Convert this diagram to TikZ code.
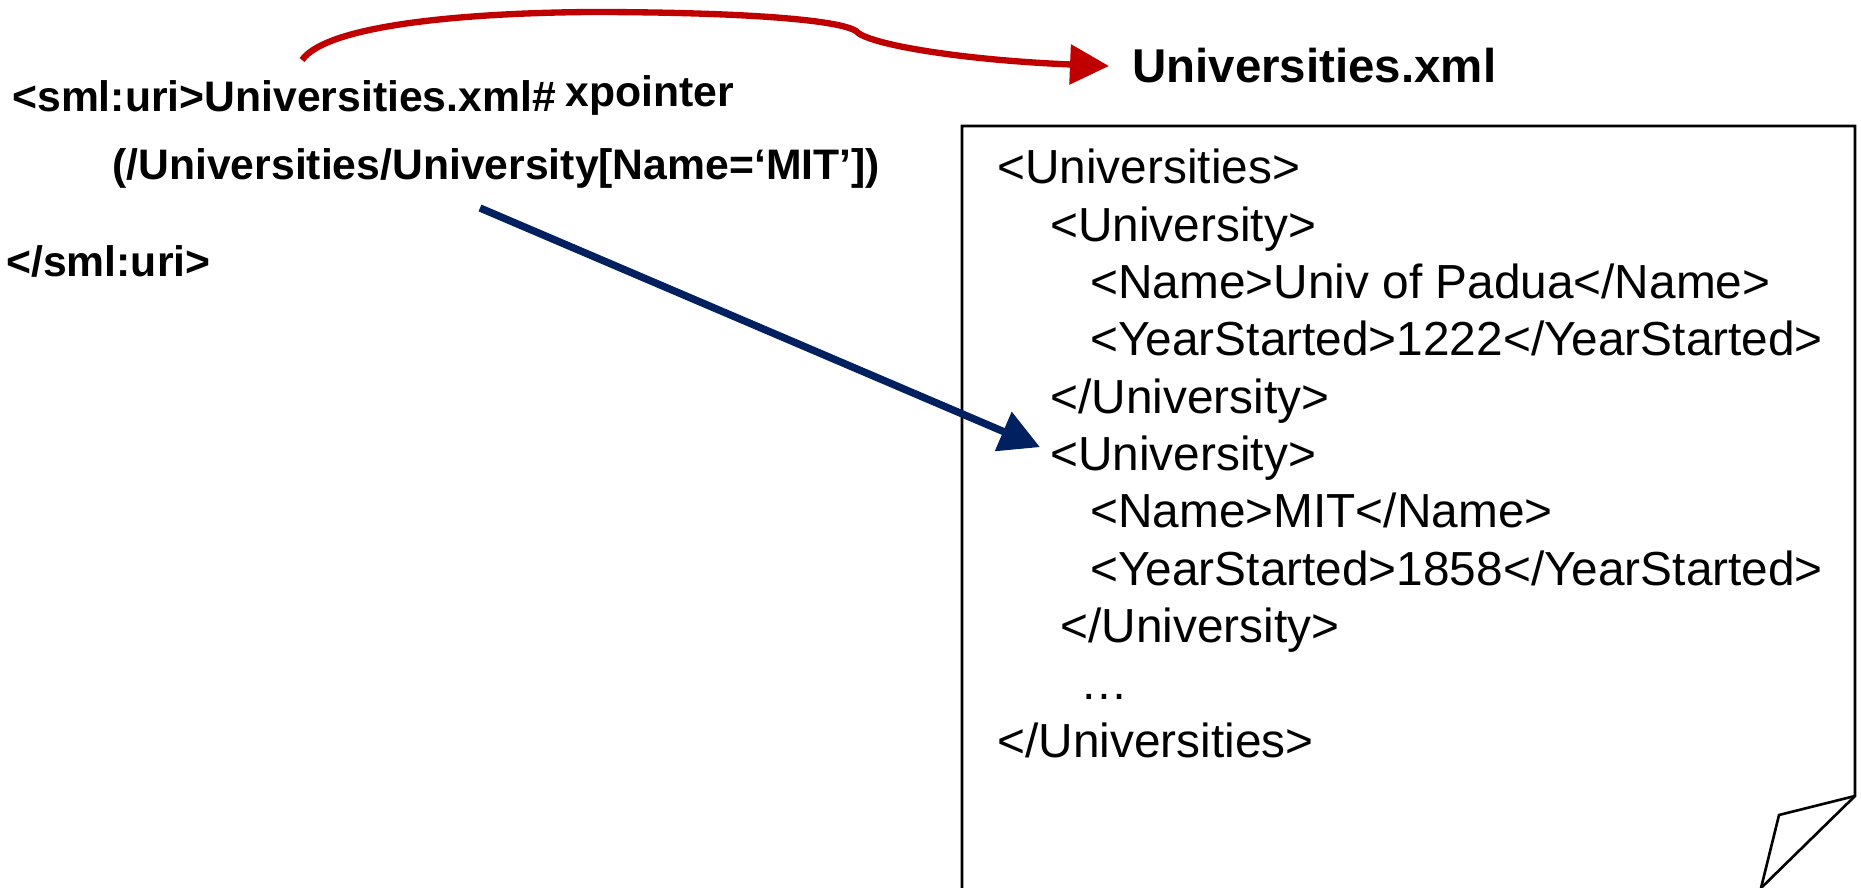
\documentclass[tikz,border=0pt]{standalone}
\usepackage{fontspec}
\setmainfont{Liberation Sans}
\usetikzlibrary{arrows.meta, positioning}
\definecolor{hookred}{HTML}{C00000}
\definecolor{ptrblue}{HTML}{002060}
\tikzset{
  uricode/.style={font=\bfseries\fontsize{24.3}{28}\selectfont, anchor=base west, inner sep=0pt},
  xmlline/.style={font=\fontsize{27.2}{32}\selectfont, anchor=base west, inner sep=0pt},
  pagebox/.style={line width=1.5pt, line join=miter},
}
\begin{document}
\begin{tikzpicture}[x=0.02cm, y=-0.02cm]
  \useasboundingbox (0,0) rectangle (1861,888);
  % left: the uri with its xpointer
  \node[uricode] (uriopen) at (12,112) {<sml:uri>Universities.xml\#};
  \node[uricode] (xptr) at (565,107) {xpointer};
  \node[uricode] (xpath) at (112,180) {(/Universities/University[Name=‘MIT’])};
  \node[uricode] (uriclose) at (6,276) {</sml:uri>};
  % right: the document
  \node[uricode, font=\bfseries\fontsize{27}{32}\selectfont] (header) at (1132,83) {Universities.xml};
  \draw[pagebox] (962,888) -- (962,126) -- (1855,126) -- (1855,796) -- (1761,888);
  \draw[pagebox] (1855,796) -- (1779,815) -- (1761,888);
  \node[xmlline] (l1)  at (997,184)    {<Universities>};
  \node[xmlline] (l2)  at (1050,241.3) {<University>};
  \node[xmlline] (l3)  at (1090,298.6) {<Name>Univ of Padua</Name>};
  \node[xmlline] (l4)  at (1090,355.9) {<YearStarted>1222</YearStarted>};
  \node[xmlline] (l5)  at (1050,413.2) {</University>};
  \node[xmlline] (l6)  at (1050,470.5) {<University>};
  \node[xmlline] (l7)  at (1090,527.8) {<Name>MIT</Name>};
  \node[xmlline] (l8)  at (1090,585.1) {<YearStarted>1858</YearStarted>};
  \node[xmlline] (l9)  at (1060,642.4) {</University>};
  \node[xmlline] (l10) at (1080,699.7) {…};
  \node[xmlline] (l11) at (997,757)    {</Universities>};
  % connectors
  \coordinate (hooksrc) at (302,60);
  \coordinate (ptrsrc) at (480,208);
  \draw[hookred, line width=3.6pt, -{Triangle[length=0.78cm,width=0.78cm]}]
    (hooksrc) .. controls (328,24) and (470,13) .. (590,12)
    .. controls (720,12) and (835,18) .. (856,31)
    .. controls (866,44) and (960,60) .. ([xshift=-0.46cm]header.west);
  \draw[ptrblue, line width=4.2pt, -{Triangle[length=0.8cm,width=0.82cm]}]
    (ptrsrc) -- ([shift={(-10,-11)}]l6.west);
\end{tikzpicture}
\end{document}
